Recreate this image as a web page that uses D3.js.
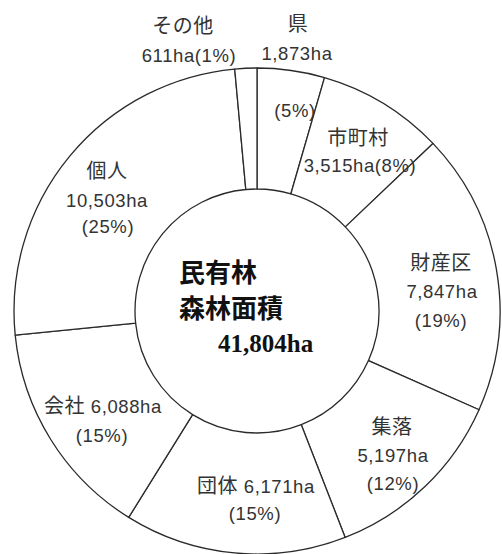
<!DOCTYPE html>
<html lang="ja">
<head>
<meta charset="utf-8">
<script src="https://cdn.jsdelivr.net/npm/d3@7"></script>
<style>
  html, body { margin: 0; padding: 0; background: #fff; }
  svg { display: block; }
</style>
</head>
<body>
<script>
// 民有林の所有者別森林面積 (ha)
const categories = ["県", "市町村", "財産区", "集落", "団体", "会社", "個人", "その他"];
const areas      = [1873, 3515, 7847, 5197, 6171, 6088, 10503, 611];
const shares     = ["5%", "8%", "19%", "12%", "15%", "15%", "25%", "1%"];
const totalLabel = ["民有林", "森林面積", "41,804ha"];

const W = 502, H = 554;
const cx = 257, cy = 311;
const outerR = 243, innerR = 122;

const svg = d3.select("body").append("svg")
  .attr("width", W).attr("height", H);

const pie = d3.pie().sort(null).value(d => d).startAngle(0).endAngle(2 * Math.PI);
const arcs = pie(areas);
const arcGen = d3.arc().innerRadius(innerR).outerRadius(outerR);

const g = svg.append("g").attr("transform", `translate(${cx},${cy})`);

g.selectAll("path.slice")
  .data(arcs)
  .join("path")
  .attr("class", "slice")
  .attr("d", arcGen)
  .attr("fill", "#fff")
  .attr("stroke", "#2a2a2a")
  .attr("stroke-width", 1.3)
  .attr("stroke-linejoin", "round");

// ラベル文字列
const fmt = d3.format(",");
const ha = i => `${fmt(areas[i])}ha`;
const pct = i => `(${shares[i]})`;

// 各区分のラベル行と配置 (中心座標, ベースライン)
const labelLines = [
  { i: 0, lines: [[categories[0], 298, 31], [ha(0), 297, 60], [pct(0), 295, 117]] },
  { i: 1, lines: [[categories[1], 358, 145], [ha(1) + pct(1), 360, 172]] },
  { i: 2, lines: [[categories[2], 441, 270], [ha(2), 442, 298], [pct(2), 441, 327]] },
  { i: 3, lines: [[categories[3], 392, 434], [ha(3), 393, 462], [pct(3), 393, 490]] },
  { i: 4, lines: [[categories[4] + " " + ha(4), 256, 493], [pct(4), 255, 520]] },
  { i: 5, lines: [[categories[5] + " " + ha(5), 103, 413], [pct(5), 102, 442]] },
  { i: 6, lines: [[categories[6], 107, 178], [ha(6), 107, 207], [pct(6), 108, 233]] },
  { i: 7, lines: [[categories[7], 183, 33], [ha(7) + pct(7), 189, 62]] }
];

const labels = svg.append("g")
  .attr("font-family", "'Liberation Sans', 'Noto Sans CJK JP', sans-serif")
  .attr("fill", "#333")
  .attr("text-anchor", "middle");

// 漢字・かなと英数字でサイズを分けて描く
const cjk = /[\u3040-\u30ff\u4e00-\u9fff]/;
function addRuns(textSel, txt) {
  const runs = [];
  for (const ch of txt) {
    const isC = cjk.test(ch);
    if (runs.length && runs[runs.length - 1].c === isC) runs[runs.length - 1].s += ch;
    else runs.push({ c: isC, s: ch });
  }
  runs.forEach(r => {
    textSel.append("tspan")
      .attr("font-size", r.c ? 20 : 18.5)
      .attr("letter-spacing", r.c ? 0.5 : 0.6)
      .text(r.s);
  });
}

labelLines.forEach(l => {
  l.lines.forEach(([txt, x, y]) => {
    const t = labels.append("text").attr("x", x).attr("y", y);
    addRuns(t, txt);
  });
});

// 中央の合計表示
const center = svg.append("g")
  .attr("font-family", "'Liberation Serif', 'Noto Sans CJK JP', serif")
  .attr("font-weight", "bold")
  .attr("fill", "#111");

center.append("text").attr("x", 179).attr("y", 282).attr("font-size", 26).text(totalLabel[0]);
center.append("text").attr("x", 179).attr("y", 318).attr("font-size", 26).text(totalLabel[1]);
center.append("text").attr("x", 218).attr("y", 352).attr("font-size", 25).text(totalLabel[2]);
</script>
</body>
</html>
